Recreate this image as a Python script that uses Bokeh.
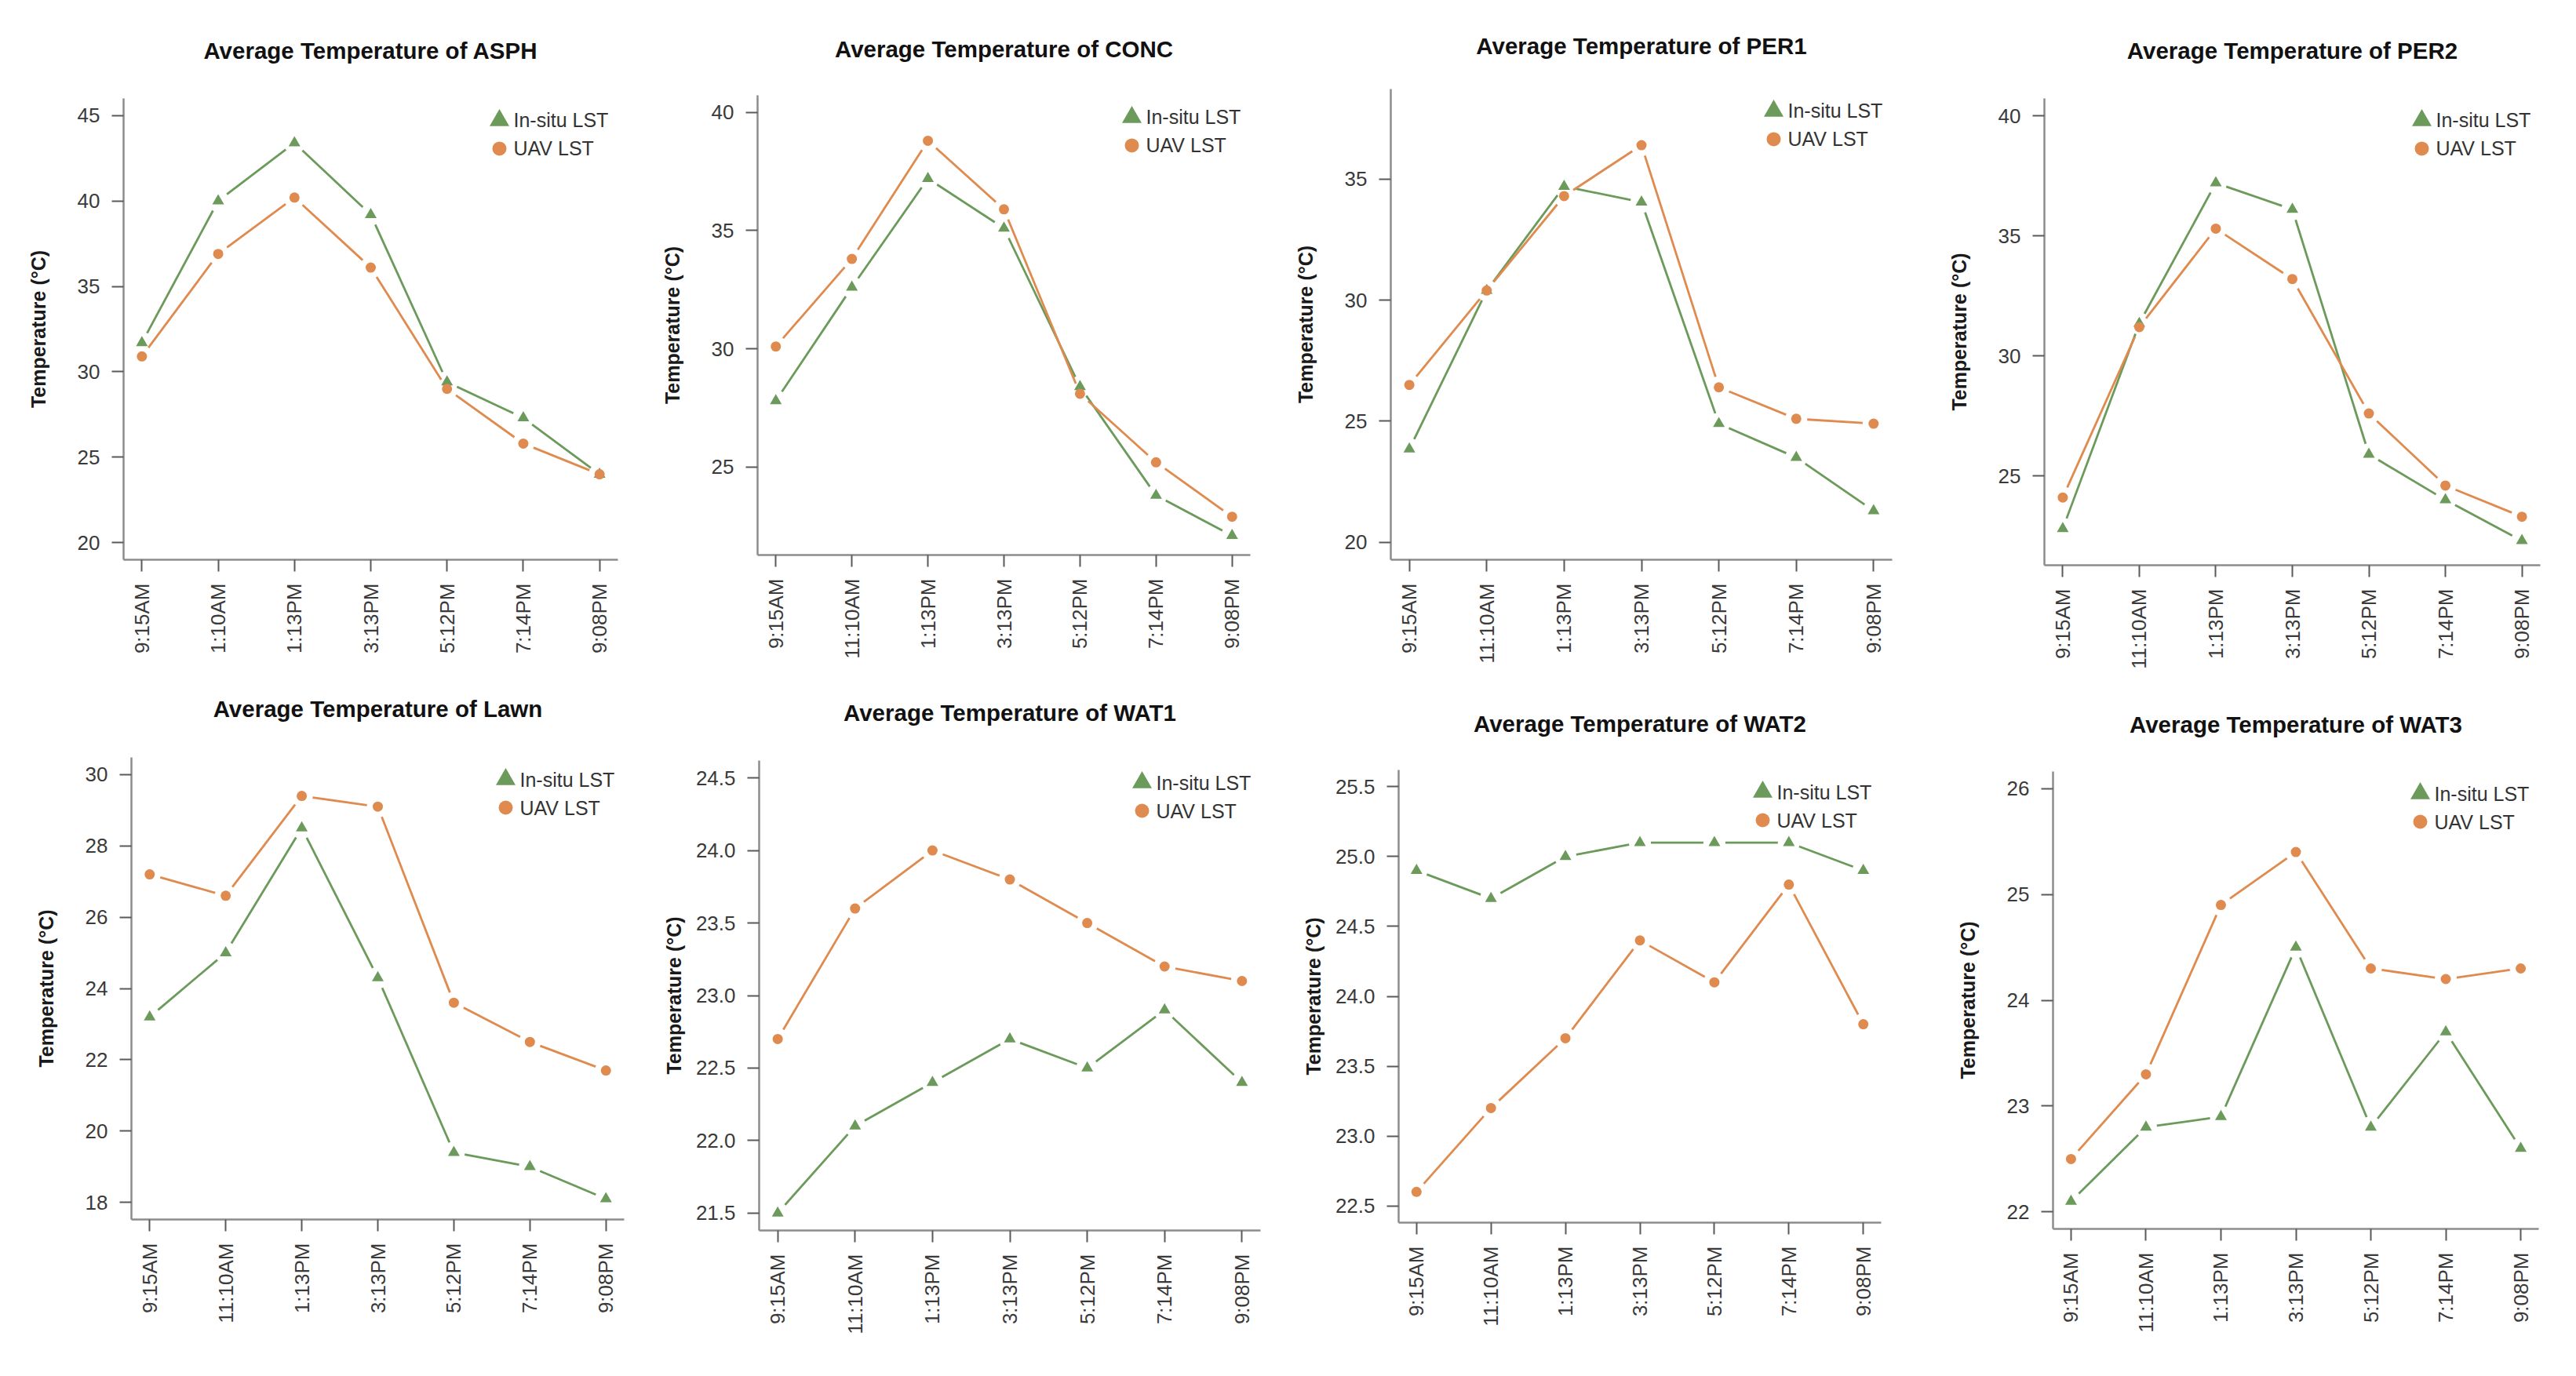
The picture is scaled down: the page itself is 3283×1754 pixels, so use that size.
import math
from bokeh.plotting import figure
from bokeh.layouts import row, column
from bokeh.models import Range1d, FixedTicker, PrintfTickFormatter
from bokeh.core.properties import value
from bokeh.embed import file_html
from bokeh.resources import INLINE

# ---------------- data ----------------
sites = ["ASPH", "CONC", "PER1", "PER2", "Lawn", "WAT1", "WAT2", "WAT3"]
times = ["9:15AM", "11:10AM", "1:13PM", "3:13PM", "5:12PM", "7:14PM", "9:08PM"]
times_asph = ["9:15AM", "1:10AM", "1:13PM", "3:13PM", "5:12PM", "7:14PM", "9:08PM"]
legend_labels = ["In-situ LST", "UAV LST"]

insitu_asph = [31.7, 40.0, 43.4, 39.2, 29.4, 27.3, 24.0]
uav_asph = [30.9, 36.9, 40.2, 36.1, 29.0, 25.8, 24.0]
insitu_conc = [27.8, 32.6, 37.2, 35.1, 28.4, 23.8, 22.1]
uav_conc = [30.1, 33.8, 38.8, 35.9, 28.1, 25.2, 22.9]
insitu_per1 = [23.85, 30.4, 34.7, 34.05, 24.9, 23.5, 21.3]
uav_per1 = [26.5, 30.4, 34.3, 36.4, 26.4, 25.1, 24.9]
insitu_per2 = [22.8, 31.35, 37.2, 36.1, 25.9, 24.0, 22.3]
uav_per2 = [24.1, 31.2, 35.3, 33.2, 27.6, 24.6, 23.3]
insitu_lawn = [23.2, 25.0, 28.5, 24.3, 19.4, 19.0, 18.1]
uav_lawn = [27.2, 26.6, 29.4, 29.1, 23.6, 22.5, 21.7]
insitu_wat1 = [21.5, 22.1, 22.4, 22.7, 22.5, 22.9, 22.4]
uav_wat1 = [22.7, 23.6, 24.0, 23.8, 23.5, 23.2, 23.1]
insitu_wat2 = [24.9, 24.7, 25.0, 25.1, 25.1, 25.1, 24.9]
uav_wat2 = [22.6, 23.2, 23.7, 24.4, 24.1, 24.8, 23.8]
insitu_wat3 = [22.1, 22.8, 22.9, 24.5, 22.8, 23.7, 22.6]
uav_wat3 = [22.5, 23.3, 24.9, 25.4, 24.3, 24.2, 24.3]

ylim_asph = (20, 45)
ylim_conc = (22, 40)
ylim_per1 = (20, 38)
ylim_per2 = (22, 40)
ylim_lawn = (18, 30)
ylim_wat1 = (21.5, 24.5)
ylim_wat2 = (22.5, 25.5)
ylim_wat3 = (22, 26)

yticks_asph = [20, 25, 30, 35, 40, 45]
yticks_conc = [25, 30, 35, 40]
yticks_per1 = [20, 25, 30, 35]
yticks_per2 = [25, 30, 35, 40]
yticks_lawn = [18, 20, 22, 24, 26, 28, 30]
yticks_wat1 = [21.5, 22.0, 22.5, 23.0, 23.5, 24.0, 24.5]
yticks_wat2 = [22.5, 23.0, 23.5, 24.0, 24.5, 25.0, 25.5]
yticks_wat3 = [22, 23, 24, 25, 26]

series_insitu = [insitu_asph, insitu_conc, insitu_per1, insitu_per2,
                 insitu_lawn, insitu_wat1, insitu_wat2, insitu_wat3]
series_uav = [uav_asph, uav_conc, uav_per1, uav_per2,
              uav_lawn, uav_wat1, uav_wat2, uav_wat3]
ylims = [ylim_asph, ylim_conc, ylim_per1, ylim_per2,
         ylim_lawn, ylim_wat1, ylim_wat2, ylim_wat3]
yticks = [yticks_asph, yticks_conc, yticks_per1, yticks_per2,
          yticks_lawn, yticks_wat1, yticks_wat2, yticks_wat3]
xlabels = [times_asph] + [times] * 7
ydecimals = [0, 0, 0, 0, 0, 1, 1, 0]

# ---------------- styling ----------------
GREEN = "#6B9A5B"
ORANGE = "#DF8B4F"
FONT = "Liberation Sans"
TOTAL_H = 1738
COL_LEFT = [0, 816, 1632, 2448]
COL_W = [816, 816, 816, 819]
COL_SPLIT = [836, 844, 850, 857]   # page y where the lower panel of each column starts
# frame boxes in page pixels: (left, right, top, bottom) and title gap above frame
frames = [
    (157, 787, 124, 713, 62.5),
    (965, 1593, 120, 707, 61.3),
    (1772, 2411, 112, 713, 62.0),
    (2605, 3237, 124, 720, 62.5),
    (167, 795, 965, 1554, 62.0),
    (967, 1606, 969, 1568, 61.0),
    (1782, 2397, 981, 1558, 58.5),
    (2616, 3235, 983, 1566, 60.0),
]
GAP = 14.0


def label_width(s, size):
    w = 0.0
    for ch in s:
        w += 0.278 if ch == "." else 0.556
    return w * size


def gapped_segments(xs, ys, sx, sy):
    x0, y0, x1, y1 = [], [], [], []
    for i in range(len(xs) - 1):
        dx = xs[i + 1] - xs[i]
        dy = ys[i + 1] - ys[i]
        L = math.hypot(dx * sx, dy * sy)
        f = GAP / L
        if 2 * f >= 1:
            continue
        x0.append(xs[i] + f * dx)
        y0.append(ys[i] + f * dy)
        x1.append(xs[i + 1] - f * dx)
        y1.append(ys[i + 1] - f * dy)
    return x0, y0, x1, y1


def make_panel(k):
    r, c = divmod(k, 4)
    W = COL_W[c]
    top = 0 if r == 0 else COL_SPLIT[c]
    H = COL_SPLIT[c] if r == 0 else TOTAL_H - COL_SPLIT[c]
    fl, fr, ft, fb, tgap = frames[k]
    bl = int(round(fl - COL_LEFT[c]))
    br = int(round(COL_LEFT[c] + W - fr))
    bt = int(round(ft - top))
    bb = int(round(top + H - fb))

    lo, hi = ylims[k]
    pad = 0.04 * (hi - lo)
    ystart, yend = lo - pad, hi + pad
    n = len(xlabels[k])
    xpad = 0.04 * (n - 1)
    xstart, xend = -xpad, (n - 1) + xpad

    p = figure(width=W, height=H, output_backend="svg", toolbar_location=None,
               x_range=Range1d(xstart, xend), y_range=Range1d(ystart, yend),
               min_border_left=bl, min_border_right=br,
               min_border_top=bt, min_border_bottom=bb,
               title="Average Temperature of " + sites[k])
    try:
        p.frame_align = False
    except Exception:
        pass
    p.grid.visible = False
    p.outline_line_color = None
    p.background_fill_color = "white"
    p.border_fill_color = "white"

    p.title.align = "center"
    p.title.text_font = FONT
    p.title.text_font_size = "29.5px"
    p.title.text_font_style = "bold"
    p.title.text_color = "#111111"
    p.title.standoff = int(min(2 * (tgap - 16), bt - 34))

    fw = W - bl - br
    fh = H - bt - bb
    sx = fw / (xend - xstart)
    sy = fh / (yend - ystart)

    xs = list(range(n))
    for ys, color in ((series_insitu[k], GREEN), (series_uav[k], ORANGE)):
        a, b, c2, d = gapped_segments(xs, ys, sx, sy)
        p.segment(x0=a, y0=b, x1=c2, y1=d, line_color=color, line_width=2.8)
    p.scatter(x=xs, y=series_insitu[k], marker="triangle", size=15,
              fill_color=GREEN, line_color=None)
    p.scatter(x=xs, y=series_uav[k], marker="circle", size=13,
              fill_color=ORANGE, line_color=None)

    # legend (top right, inside the plot region, no box)
    lx = xend - 151.0 / sx
    tx = lx + 18.0 / sx
    ly = [yend - 28.0 / sy, yend - 64.0 / sy]
    p.scatter(x=[lx], y=[ly[0]], marker="triangle", size=25,
              fill_color=GREEN, line_color=None)
    p.scatter(x=[lx], y=[ly[1]], marker="circle", size=18,
              fill_color=ORANGE, line_color=None)
    p.text(x=[tx, tx], y=ly, text=legend_labels, text_baseline="middle",
           text_align="left", text_font=value(FONT), text_font_size="25px",
           text_color="#333333")

    # axes
    for ax in (p.xaxis[0], p.yaxis[0]):
        ax.axis_line_color = "#8C8C8C"
        ax.axis_line_width = 2.5
        ax.major_tick_line_color = "#5A5A5A"
        ax.major_tick_line_width = 2
        ax.major_tick_in = 0
        ax.major_tick_out = 15
        ax.minor_tick_line_color = None
        ax.major_label_text_font = FONT
        ax.major_label_text_font_size = "26px"
        ax.major_label_text_color = "#3A3A3A"
        ax.major_label_standoff = 15

    p.xaxis.ticker = FixedTicker(ticks=xs)
    p.xaxis.major_label_overrides = {i: t for i, t in enumerate(xlabels[k])}
    p.xaxis.major_label_orientation = math.pi / 2

    p.yaxis.ticker = FixedTicker(ticks=yticks[k])
    fmt = "%.1f" if ydecimals[k] else "%d"
    p.yaxis.formatter = PrintfTickFormatter(format=fmt)
    p.yaxis.axis_label = "Temperature (°C)"
    p.yaxis.axis_label_text_font = FONT
    p.yaxis.axis_label_text_font_size = "25px"
    p.yaxis.axis_label_text_font_style = "bold"
    p.yaxis.axis_label_text_color = "#1A1A1A"
    maxw = max(label_width(fmt % v, 26) for v in yticks[k])
    p.yaxis.axis_label_standoff = max(2, int(round(62 - maxw)))
    return p


panels = [make_panel(k) for k in range(8)]
layout = row(*[column(panels[c], panels[c + 4]) for c in range(4)])

open("out.html", "w").write(file_html(layout, INLINE))
